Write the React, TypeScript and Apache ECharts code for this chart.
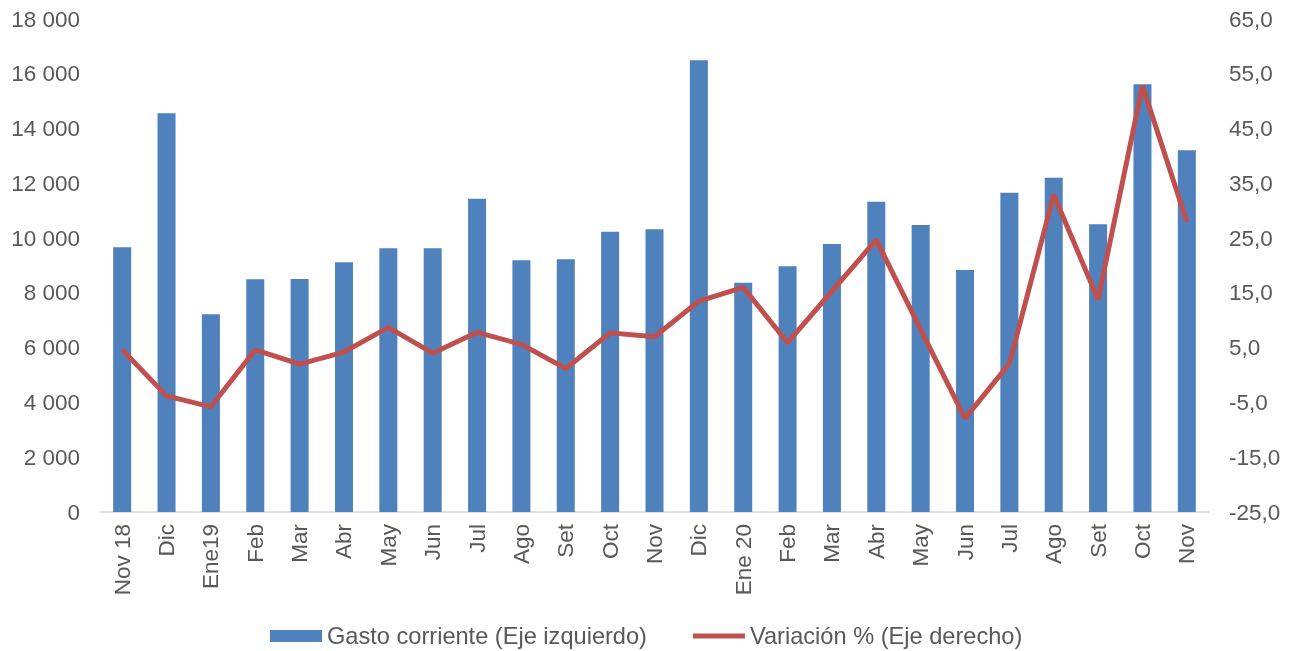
import React, { useEffect, useRef } from "react";
import * as echarts from "echarts";

const categories = ["Nov 18", "Dic", "Ene19", "Feb", "Mar", "Abr", "May", "Jun", "Jul", "Ago", "Set", "Oct", "Nov", "Dic", "Ene 20", "Feb", "Mar", "Abr", "May", "Jun", "Jul", "Ago", "Set", "Oct", "Nov"];
const gastoCorriente = [9665, 14556, 7217, 8495, 8507, 9115, 9626, 9626, 11440, 9188, 9225, 10235, 10320, 16490, 8373, 8970, 9785, 11330, 10478, 8835, 11658, 12206, 10503, 15615, 13205];
const variacion = [4.6, -3.8, -5.8, 4.6, 2.0, 4.2, 8.7, 4.0, 7.8, 5.6, 1.2, 7.7, 7.0, 13.5, 16.0, 5.9, 15.3, 24.7, 8.3, -7.9, 2.1, 32.9, 13.8, 52.8, 28.0];
const seriesNames = ["Gasto corriente (Eje izquierdo)", "Variación % (Eje derecho)"];

const FONT = '"Liberation Sans", Arial, sans-serif';
const TEXT = "#595959";

export default function App() {
  const ref = useRef<HTMLDivElement>(null);
  useEffect(() => {
    if (!ref.current) return;
    const chart = echarts.init(ref.current, null, { renderer: "svg" });
    chart.setOption({
      animation: false,
      textStyle: { fontFamily: FONT },
      grid: { left: 100, right: 85, top: 19, bottom: 139, containLabel: false },
      legend: {
        left: 270,
        top: 624,
        padding: 0,
        itemGap: 46,
        itemWidth: 52,
        itemHeight: 12,
        textStyle: { color: TEXT, fontSize: 23.6, fontFamily: FONT },
        data: [
          { name: seriesNames[0], icon: "rect" },
          { name: seriesNames[1], icon: "path://M0,0H52V5H0Z" },
        ],
      },
      xAxis: {
        type: "category",
        data: categories,
        axisLine: { show: true, lineStyle: { color: "#D9D9D9", width: 1.5 } },
        axisTick: { show: false },
        axisLabel: { rotate: 90, margin: 12, color: TEXT, fontSize: 22.5, fontFamily: FONT, interval: 0 },
      },
      yAxis: [
        {
          type: "value",
          min: 0,
          max: 18000,
          interval: 2000,
          splitLine: { show: false },
          axisLine: { show: false },
          axisTick: { show: false },
          axisLabel: {
            margin: 20,
            color: TEXT,
            fontSize: 22.5,
            fontFamily: FONT,
            formatter: (v: number) => String(v).replace(/\B(?=(\d{3})+(?!\d))/g, " "),
          },
        },
        {
          type: "value",
          min: -25,
          max: 65,
          interval: 10,
          splitLine: { show: false },
          axisLine: { show: false },
          axisTick: { show: false },
          axisLabel: {
            margin: 20,
            color: TEXT,
            fontSize: 22.5,
            fontFamily: FONT,
            formatter: (v: number) => v.toFixed(1).replace(".", ","),
          },
        },
      ],
      series: [
        {
          name: seriesNames[0],
          type: "bar",
          data: gastoCorriente,
          barWidth: 18,
          itemStyle: { color: "#4F81BD" },
          yAxisIndex: 0,
        },
        {
          name: seriesNames[1],
          type: "line",
          data: variacion,
          yAxisIndex: 1,
          symbol: "none",
          showSymbol: false,
          lineStyle: { color: "#C0504D", width: 5 },
          itemStyle: { color: "#C0504D" },
        },
      ],
    });
    return () => chart.dispose();
  }, []);
  return <div ref={ref} style={{ position: "fixed", left: 0, top: 0, width: 1294, height: 651 }} />;
}
